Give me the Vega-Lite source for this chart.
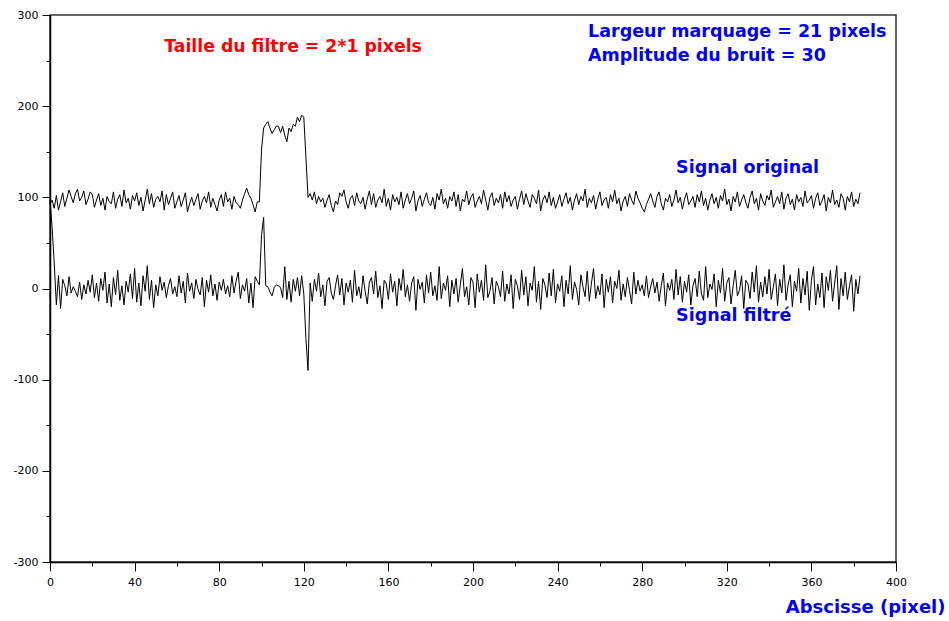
{
"$schema": "https://vega.github.io/schema/vega-lite/v6.json",
"width": 846, "height": 547,
"autosize": {"type": "none"},
"padding": {"left": 50, "top": 15, "right": 53, "bottom": 59},
"background": "white",
"config": {"view": {"stroke": "#333333", "strokeWidth": 1.5}, "axis": {"grid": false, "domainColor": "black", "domainWidth": 1.5, "tickColor": "black", "labelColor": "black", "labelFont": "DejaVu Sans", "labelFontSize": 11, "labelFlush": false}},
"data": {"values": [
{"x":0,"o":93,"f":97},{"x":1,"o":97,"f":67},{"x":2,"o":88,"f":28},{"x":3,"o":102,"f":-18},{"x":4,"o":86,"f":14},{"x":5,"o":95,"f":-22},{"x":6,"o":105,"f":10},{"x":7,"o":90,"f":3},{"x":8,"o":99,"f":-8},{"x":9,"o":108,"f":13},
{"x":10,"o":101,"f":-5},{"x":11,"o":94,"f":2},{"x":12,"o":104,"f":-3},{"x":13,"o":109,"f":-9},{"x":14,"o":96,"f":7},{"x":15,"o":100,"f":-12},{"x":16,"o":107,"f":4},{"x":17,"o":92,"f":-6},{"x":18,"o":98,"f":9},{"x":19,"o":106,"f":-4},
{"x":20,"o":103,"f":15},{"x":21,"o":89,"f":-10},{"x":22,"o":97,"f":6},{"x":23,"o":104,"f":-14},{"x":24,"o":91,"f":11},{"x":25,"o":99,"f":-2},{"x":26,"o":86,"f":18},{"x":27,"o":101,"f":-16},{"x":28,"o":95,"f":5},{"x":29,"o":93,"f":-20},
{"x":30,"o":106,"f":12},{"x":31,"o":88,"f":-7},{"x":32,"o":98,"f":20},{"x":33,"o":103,"f":-13},{"x":34,"o":90,"f":3},{"x":35,"o":108,"f":-18},{"x":36,"o":94,"f":8},{"x":37,"o":99,"f":-4},{"x":38,"o":87,"f":16},{"x":39,"o":102,"f":-11},
{"x":40,"o":96,"f":22},{"x":41,"o":105,"f":-15},{"x":42,"o":91,"f":6},{"x":43,"o":100,"f":-19},{"x":44,"o":85,"f":14},{"x":45,"o":97,"f":-3},{"x":46,"o":109,"f":25},{"x":47,"o":93,"f":-12},{"x":48,"o":104,"f":9},{"x":49,"o":89,"f":-21},
{"x":50,"o":98,"f":4},{"x":51,"o":101,"f":-8},{"x":52,"o":95,"f":13},{"x":53,"o":107,"f":-2},{"x":54,"o":86,"f":7},{"x":55,"o":103,"f":-10},{"x":56,"o":92,"f":3},{"x":57,"o":99,"f":11},{"x":58,"o":106,"f":-6},{"x":59,"o":88,"f":2},
{"x":60,"o":95,"f":-9},{"x":61,"o":102,"f":14},{"x":62,"o":90,"f":-5},{"x":63,"o":97,"f":8},{"x":64,"o":105,"f":-16},{"x":65,"o":84,"f":17},{"x":66,"o":93,"f":-3},{"x":67,"o":100,"f":6},{"x":68,"o":91,"f":-11},{"x":69,"o":98,"f":10},
{"x":70,"o":104,"f":-1},{"x":71,"o":87,"f":-7},{"x":72,"o":96,"f":12},{"x":73,"o":101,"f":-20},{"x":74,"o":94,"f":9},{"x":75,"o":106,"f":-4},{"x":76,"o":89,"f":15},{"x":77,"o":99,"f":-8},{"x":78,"o":92,"f":5},{"x":79,"o":85,"f":-13},
{"x":80,"o":97,"f":7},{"x":81,"o":103,"f":-2},{"x":82,"o":90,"f":10},{"x":83,"o":106,"f":-6},{"x":84,"o":95,"f":3},{"x":85,"o":99,"f":-9},{"x":86,"o":87,"f":14},{"x":87,"o":101,"f":-5},{"x":88,"o":94,"f":8},{"x":89,"o":92,"f":18},
{"x":90,"o":88,"f":-11},{"x":91,"o":97,"f":4},{"x":92,"o":104,"f":-3},{"x":93,"o":110,"f":11},{"x":94,"o":103,"f":-16},{"x":95,"o":99,"f":6},{"x":96,"o":92,"f":-21},{"x":97,"o":84,"f":13},{"x":98,"o":95,"f":8},{"x":99,"o":95,"f":4},
{"x":100,"o":152,"f":58},{"x":101,"o":176,"f":78},{"x":102,"o":180,"f":3},{"x":103,"o":183,"f":2},{"x":104,"o":176,"f":-4},{"x":105,"o":170,"f":-8},{"x":106,"o":174,"f":1},{"x":107,"o":178,"f":4},{"x":108,"o":178,"f":3},{"x":109,"o":171,"f":1},
{"x":110,"o":178,"f":-10},{"x":111,"o":168,"f":24},{"x":112,"o":161,"f":-12},{"x":113,"o":176,"f":8},{"x":114,"o":172,"f":-15},{"x":115,"o":180,"f":10},{"x":116,"o":178,"f":-3},{"x":117,"o":188,"f":12},{"x":118,"o":183,"f":-8},{"x":119,"o":190,"f":14},
{"x":120,"o":188,"f":-6},{"x":121,"o":144,"f":-55},{"x":122,"o":100,"f":-90},{"x":123,"o":104,"f":6},{"x":124,"o":97,"f":-14},{"x":125,"o":106,"f":10},{"x":126,"o":93,"f":-3},{"x":127,"o":101,"f":17},{"x":128,"o":95,"f":-9},{"x":129,"o":99,"f":4},
{"x":130,"o":89,"f":-19},{"x":131,"o":97,"f":8},{"x":132,"o":103,"f":12},{"x":133,"o":91,"f":-5},{"x":134,"o":84,"f":-12},{"x":135,"o":96,"f":3},{"x":136,"o":92,"f":15},{"x":137,"o":105,"f":-7},{"x":138,"o":101,"f":11},{"x":139,"o":108,"f":-18},
{"x":140,"o":95,"f":6},{"x":141,"o":88,"f":-4},{"x":142,"o":99,"f":9},{"x":143,"o":102,"f":-15},{"x":144,"o":91,"f":20},{"x":145,"o":105,"f":-8},{"x":146,"o":96,"f":2},{"x":147,"o":93,"f":-11},{"x":148,"o":100,"f":14},{"x":149,"o":87,"f":-3},
{"x":150,"o":98,"f":-17},{"x":151,"o":107,"f":7},{"x":152,"o":92,"f":12},{"x":153,"o":104,"f":-6},{"x":154,"o":89,"f":19},{"x":155,"o":97,"f":-10},{"x":156,"o":101,"f":3},{"x":157,"o":94,"f":-22},{"x":158,"o":109,"f":9},{"x":159,"o":90,"f":5},
{"x":160,"o":99,"f":-12},{"x":161,"o":86,"f":16},{"x":162,"o":103,"f":-4},{"x":163,"o":95,"f":8},{"x":164,"o":100,"f":-19},{"x":165,"o":92,"f":11},{"x":166,"o":106,"f":-2},{"x":167,"o":88,"f":21},{"x":168,"o":97,"f":-9},{"x":169,"o":104,"f":4},
{"x":170,"o":93,"f":-14},{"x":171,"o":99,"f":6},{"x":172,"o":107,"f":13},{"x":173,"o":85,"f":-24},{"x":174,"o":96,"f":10},{"x":175,"o":102,"f":-1},{"x":176,"o":90,"f":7},{"x":177,"o":98,"f":-16},{"x":178,"o":105,"f":15},{"x":179,"o":94,"f":-5},
{"x":180,"o":91,"f":18},{"x":181,"o":100,"f":-8},{"x":182,"o":87,"f":3},{"x":183,"o":104,"f":-13},{"x":184,"o":97,"f":24},{"x":185,"o":109,"f":-11},{"x":186,"o":93,"f":6},{"x":187,"o":99,"f":-2},{"x":188,"o":88,"f":14},{"x":189,"o":101,"f":-20},
{"x":190,"o":96,"f":9},{"x":191,"o":106,"f":-6},{"x":192,"o":90,"f":11},{"x":193,"o":103,"f":-15},{"x":194,"o":85,"f":4},{"x":195,"o":98,"f":22},{"x":196,"o":95,"f":-9},{"x":197,"o":107,"f":2},{"x":198,"o":92,"f":-18},{"x":199,"o":100,"f":12},
{"x":200,"o":104,"f":7},{"x":201,"o":89,"f":-21},{"x":202,"o":96,"f":16},{"x":203,"o":101,"f":-4},{"x":204,"o":93,"f":9},{"x":205,"o":108,"f":-13},{"x":206,"o":97,"f":26},{"x":207,"o":86,"f":-10},{"x":208,"o":100,"f":-3},{"x":209,"o":105,"f":12},
{"x":210,"o":91,"f":-17},{"x":211,"o":99,"f":8},{"x":212,"o":94,"f":2},{"x":213,"o":103,"f":-9},{"x":214,"o":88,"f":19},{"x":215,"o":106,"f":-14},{"x":216,"o":95,"f":5},{"x":217,"o":102,"f":-6},{"x":218,"o":90,"f":15},{"x":219,"o":97,"f":-22},
{"x":220,"o":101,"f":10},{"x":221,"o":87,"f":3},{"x":222,"o":98,"f":-12},{"x":223,"o":107,"f":20},{"x":224,"o":92,"f":-7},{"x":225,"o":104,"f":13},{"x":226,"o":96,"f":-19},{"x":227,"o":89,"f":6},{"x":228,"o":103,"f":-2},{"x":229,"o":99,"f":24},
{"x":230,"o":93,"f":-15},{"x":231,"o":108,"f":8},{"x":232,"o":85,"f":-23},{"x":233,"o":97,"f":11},{"x":234,"o":102,"f":4},{"x":235,"o":94,"f":-10},{"x":236,"o":106,"f":17},{"x":237,"o":91,"f":-8},{"x":238,"o":100,"f":21},{"x":239,"o":88,"f":-16},
{"x":240,"o":95,"f":5},{"x":241,"o":103,"f":-3},{"x":242,"o":90,"f":14},{"x":243,"o":98,"f":-20},{"x":244,"o":105,"f":9},{"x":245,"o":93,"f":-6},{"x":246,"o":100,"f":25},{"x":247,"o":86,"f":-12},{"x":248,"o":97,"f":7},{"x":249,"o":104,"f":-1},
{"x":250,"o":92,"f":-18},{"x":251,"o":101,"f":15},{"x":252,"o":96,"f":2},{"x":253,"o":109,"f":-9},{"x":254,"o":89,"f":19},{"x":255,"o":99,"f":-14},{"x":256,"o":94,"f":6},{"x":257,"o":102,"f":22},{"x":258,"o":87,"f":-11},{"x":259,"o":98,"f":3},
{"x":260,"o":106,"f":-7},{"x":261,"o":91,"f":16},{"x":262,"o":97,"f":-21},{"x":263,"o":100,"f":10},{"x":264,"o":88,"f":-4},{"x":265,"o":103,"f":13},{"x":266,"o":95,"f":-16},{"x":267,"o":108,"f":8},{"x":268,"o":93,"f":0},{"x":269,"o":99,"f":20},
{"x":270,"o":85,"f":-13},{"x":271,"o":96,"f":5},{"x":272,"o":101,"f":-9},{"x":273,"o":90,"f":12},{"x":274,"o":104,"f":-2},{"x":275,"o":97,"f":-17},{"x":276,"o":92,"f":18},{"x":277,"o":107,"f":-6},{"x":278,"o":99,"f":9},{"x":279,"o":94,"f":-3},
{"x":280,"o":88,"f":4},{"x":281,"o":84,"f":-8},{"x":282,"o":92,"f":14},{"x":283,"o":98,"f":-10},{"x":284,"o":104,"f":2},{"x":285,"o":96,"f":11},{"x":286,"o":89,"f":-5},{"x":287,"o":101,"f":7},{"x":288,"o":106,"f":-14},{"x":289,"o":93,"f":3},
{"x":290,"o":86,"f":17},{"x":291,"o":99,"f":-19},{"x":292,"o":95,"f":6},{"x":293,"o":103,"f":-2},{"x":294,"o":90,"f":10},{"x":295,"o":97,"f":-12},{"x":296,"o":108,"f":21},{"x":297,"o":94,"f":-7},{"x":298,"o":100,"f":13},{"x":299,"o":87,"f":-15},
{"x":300,"o":98,"f":8},{"x":301,"o":105,"f":-4},{"x":302,"o":92,"f":15},{"x":303,"o":96,"f":-18},{"x":304,"o":101,"f":3},{"x":305,"o":89,"f":11},{"x":306,"o":103,"f":-9},{"x":307,"o":95,"f":19},{"x":308,"o":107,"f":-6},{"x":309,"o":91,"f":-13},
{"x":310,"o":99,"f":24},{"x":311,"o":86,"f":-10},{"x":312,"o":97,"f":5},{"x":313,"o":104,"f":-1},{"x":314,"o":93,"f":16},{"x":315,"o":100,"f":-20},{"x":316,"o":88,"f":9},{"x":317,"o":102,"f":-5},{"x":318,"o":96,"f":22},{"x":319,"o":109,"f":-14},
{"x":320,"o":92,"f":6},{"x":321,"o":98,"f":12},{"x":322,"o":85,"f":-17},{"x":323,"o":101,"f":3},{"x":324,"o":95,"f":20},{"x":325,"o":106,"f":-8},{"x":326,"o":90,"f":-2},{"x":327,"o":97,"f":14},{"x":328,"o":103,"f":-22},{"x":329,"o":94,"f":9},
{"x":330,"o":88,"f":5},{"x":331,"o":100,"f":-11},{"x":332,"o":107,"f":18},{"x":333,"o":93,"f":-4},{"x":334,"o":99,"f":25},{"x":335,"o":86,"f":-15},{"x":336,"o":104,"f":7},{"x":337,"o":96,"f":-9},{"x":338,"o":91,"f":13},{"x":339,"o":102,"f":-6},
{"x":340,"o":97,"f":21},{"x":341,"o":108,"f":-12},{"x":342,"o":89,"f":2},{"x":343,"o":95,"f":16},{"x":344,"o":101,"f":-19},{"x":345,"o":93,"f":10},{"x":346,"o":106,"f":-5},{"x":347,"o":87,"f":26},{"x":348,"o":99,"f":-13},{"x":349,"o":104,"f":4},
{"x":350,"o":92,"f":15},{"x":351,"o":98,"f":-20},{"x":352,"o":86,"f":8},{"x":353,"o":103,"f":-3},{"x":354,"o":95,"f":22},{"x":355,"o":100,"f":-16},{"x":356,"o":90,"f":11},{"x":357,"o":107,"f":-7},{"x":358,"o":94,"f":19},{"x":359,"o":97,"f":-24},
{"x":360,"o":102,"f":9},{"x":361,"o":88,"f":24},{"x":362,"o":99,"f":-18},{"x":363,"o":105,"f":5},{"x":364,"o":91,"f":-10},{"x":365,"o":96,"f":17},{"x":366,"o":103,"f":-21},{"x":367,"o":85,"f":13},{"x":368,"o":100,"f":-2},{"x":369,"o":94,"f":20},
{"x":370,"o":108,"f":-14},{"x":371,"o":92,"f":6},{"x":372,"o":97,"f":25},{"x":373,"o":89,"f":-23},{"x":374,"o":104,"f":11},{"x":375,"o":99,"f":-8},{"x":376,"o":86,"f":18},{"x":377,"o":101,"f":-12},{"x":378,"o":95,"f":3},{"x":379,"o":106,"f":15},
{"x":380,"o":90,"f":-25},{"x":381,"o":98,"f":10},{"x":382,"o":93,"f":-6},{"x":383,"o":105,"f":14}
]},
"layer": [
{"mark": {"type": "line", "color": "black", "strokeWidth": 1},
 "encoding": {
  "x": {"field": "x", "type": "quantitative", "scale": {"domain": [0, 400], "nice": false},
        "axis": {"orient": "bottom", "values": [0,40,80,120,160,200,240,280,320,360,400], "tickSize": 9, "labelPadding": 5, "labelExpr": "'' + datum.value",
                 "title": "Abscisse (pixel)", "titleFont": "DejaVu Sans", "titleFontSize": 18, "titleFontWeight": "bold", "titleColor": "#0000ff",
                 "titleAlign": "right", "titleAnchor": null, "titleX": 895, "titleY": 45, "titleBaseline": "middle"}},
  "y": {"field": "o", "type": "quantitative", "scale": {"domain": [-300, 300], "nice": false},
        "axis": {"orient": "left", "values": [-300,-200,-100,0,100,200,300], "tickSize": 8, "labelPadding": 4, "labelExpr": "'' + datum.value", "title": null}}
 }},
{"mark": {"type": "line", "color": "black", "strokeWidth": 1},
 "encoding": {
  "x": {"field": "x", "type": "quantitative", "scale": {"domain": [0, 400], "nice": false},
        "axis": {"orient": "bottom", "values": [20,60,100,140,180,220,260,300,340,380], "tickSize": 4, "labels": false, "domain": false, "title": null}},
  "y": {"field": "f", "type": "quantitative", "scale": {"domain": [-300, 300], "nice": false},
        "axis": {"orient": "left", "values": [-250,-150,-50,50,150,250], "tickSize": 4, "labels": false, "domain": false, "title": null}}
 }},
{"data": {"values": [{"t": "Taille du filtre = 2*1 pixels", "px": 114.9, "py": 264.5}]},
 "mark": {"type": "text", "color": "#ff0000", "font": "DejaVu Sans", "fontSize": 17.3, "fontWeight": "bold", "align": "center", "baseline": "middle"},
 "encoding": {"x": {"field": "px", "type": "quantitative", "axis": null}, "y": {"field": "py", "type": "quantitative", "axis": null}, "text": {"field": "t"}}},
{"data": {"values": [
   {"t": "Largeur marquage = 21 pixels", "px": 254.4, "py": 280.9},
   {"t": "Amplitude du bruit = 30", "px": 254.4, "py": 254.6},
   {"t": "Signal original", "px": 296, "py": 132.7},
   {"t": "Signal filtré", "px": 296, "py": -30.6}]},
 "mark": {"type": "text", "color": "#0000ff", "font": "DejaVu Sans", "fontSize": 17.5, "fontWeight": "bold", "align": "left", "baseline": "middle"},
 "encoding": {"x": {"field": "px", "type": "quantitative", "axis": null}, "y": {"field": "py", "type": "quantitative", "axis": null}, "text": {"field": "t"}}}
],
"resolve": {"axis": {"x": "independent", "y": "independent"}}
}
